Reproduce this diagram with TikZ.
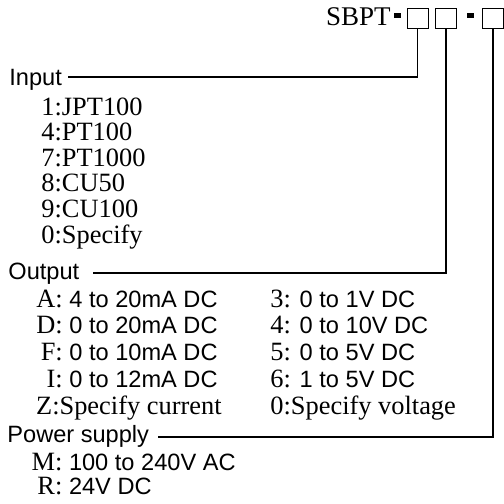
\documentclass[tikz,border=0pt]{standalone}
\usepackage{fontspec}
\setmainfont{Liberation Serif}
\setsansfont{Liberation Sans}
\newcommand{\desc}[1]{{\sffamily\fontsize{11.8}{13}\selectfont #1}}

\begin{document}
\begin{tikzpicture}[x=0.5pt,y=-0.5pt,
	codebox/.style={draw,line width=0.4pt,minimum width=10.5pt,minimum height=10pt,inner sep=0pt},
	grp/.style={anchor=base west,inner sep=0pt,font=\sffamily\fontsize{11.8}{13}\selectfont},
	item/.style={inner sep=0pt,font=\rmfamily\fontsize{13.2}{15}\selectfont},
	lead/.style={line width=0.6pt}]
	\useasboundingbox (0,0) rectangle (504,504);
	
	% order code
	\node[anchor=base east,inner sep=0pt,font=\fontsize{13.5}{16}\selectfont] (sbpt) at (391,25) {SBPT};
	\fill (394,13.2) rectangle (400.5,18);
	\fill (467,13.2) rectangle (473.5,18);
	\node[codebox] (b1) at (417.5,18.3) {};
	\node[codebox] (b2) at (446,18.3) {};
	\node[codebox] (b3) at (493,18.3) {};
	
	% groups
	\node[grp] (input) at (9,85) {Input};
	\node[grp] (output) at (8,279) {Output};
	\node[grp] (power) at (7,442) {Power supply};
	
	\node[item,anchor=base west] at (41,115) {1:JPT100};
	\node[item,anchor=base west] at (41,140.6) {4:PT100};
	\node[item,anchor=base west] at (41,166.2) {7:PT1000};
	\node[item,anchor=base west] at (41,191.8) {8:CU50};
	\node[item,anchor=base west] at (41,217.4) {9:CU100};
	\node[item,anchor=base west] at (41,243) {0:Specify};
	
	\node[item,anchor=base east] at (218,307) {A: \desc{4 to 20mA DC}};
	\node[item,anchor=base east] at (218,333.75) {D: \desc{0 to 20mA DC}};
	\node[item,anchor=base east] at (218,360.5) {F: \desc{0 to 10mA DC}};
	\node[item,anchor=base east] at (218,387.25) {I: \desc{0 to 12mA DC}};
	\node[item,anchor=base east] at (222,414) {Z:Specify current};
	
	\node[item,anchor=base west] at (270,307) {3: \desc{0 to 1V DC}};
	\node[item,anchor=base west] at (270,333.75) {4: \desc{0 to 10V DC}};
	\node[item,anchor=base west] at (270,360.5) {5: \desc{0 to 5V DC}};
	\node[item,anchor=base west] at (270,387.25) {6: \desc{1 to 5V DC}};
	\node[item,anchor=base west] at (270,414) {0:Specify voltage};
	
	\node[item,anchor=base west] at (62,470) {\llap{M:} \desc{100 to 240V AC}};
	\node[item,anchor=base west] at (62,494) {\llap{R:} \desc{24V DC}};
	
	% leads
	\draw[lead] (b1.south) |- ([xshift=3pt,yshift=4pt]input.base east);
	\draw[lead] (b2.south) |- ([xshift=6.5pt,yshift=3pt]output.base east);
	\draw[lead] (b3.south) |- ([xshift=4.5pt,yshift=2.5pt]power.base east);
\end{tikzpicture}
\end{document}
